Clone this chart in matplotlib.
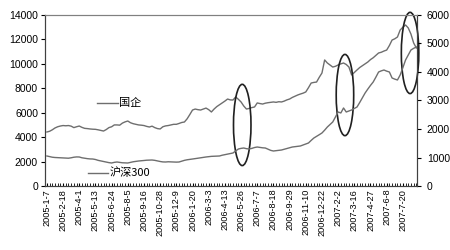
import matplotlib
matplotlib.use("Agg")
from matplotlib import pyplot as plt
from matplotlib.patches import Ellipse

plt.rcParams['font.family'] = ['Liberation Sans', 'Noto Sans CJK SC', 'DejaVu Sans']

# weekly closes, 2005-1-7 onwards
guoqi = [4420, 4480, 4600, 4750, 4850, 4910, 4950, 4930, 4950, 4900,
         4780, 4850, 4910, 4800, 4720, 4700, 4670, 4650, 4640, 4600,
         4550, 4500, 4620, 4780, 4850, 5000, 5000, 4980, 5150, 5250,
         5320, 5180, 5100, 5050, 5000, 4980, 4950, 4880, 4830, 4900,
         4780, 4700, 4670, 4850, 4920, 4950, 5000, 5050, 5050, 5120,
         5200, 5240, 5500, 5850, 6220, 6300, 6250, 6220, 6300, 6380,
         6250, 6060, 6300, 6500, 6650, 6800, 6950, 7120, 7050, 7040,
         7290, 7100, 6880, 6550, 6300, 6350, 6420, 6470, 6800, 6750,
         6710, 6780, 6820, 6850, 6880, 6850, 6900, 6880, 6950, 7050,
         7120, 7250, 7350, 7450, 7530, 7600, 7700, 8050, 8430, 8480,
         8510, 8900, 9250, 10320, 10070, 9900, 9740, 9800, 9910, 10000,
         10070, 9950, 9740, 9090, 9300, 9500, 9700, 9850, 10000, 10150,
         10350, 10500, 10700, 10890, 10950, 11050, 11130, 11500, 11950, 12050,
         12200, 12770, 13000, 13180, 12940, 12440, 11710, 11300]

hs300 = [1053, 1030, 1010, 1000, 995, 990, 985, 983, 975, 990,
         1010, 1020, 1018, 990, 975, 960, 950, 947, 930, 900,
         880, 860, 842, 820, 807, 830, 842, 830, 815, 810,
         807, 830, 850, 865, 877, 885, 895, 905, 910, 912,
         900, 880, 860, 845, 842, 850, 845, 840, 838, 842,
         870, 900, 920, 935, 947, 960, 975, 990, 1005, 1018,
         1030, 1040, 1045, 1050, 1053, 1080, 1100, 1120, 1140, 1158,
         1230, 1298, 1320, 1333, 1310, 1298, 1320, 1350, 1368, 1355,
         1340, 1333, 1290, 1250, 1228, 1240, 1250, 1263, 1290, 1320,
         1345, 1368, 1380, 1395, 1404, 1440, 1480, 1509, 1600, 1684,
         1740, 1800, 1860, 1960, 2070, 2160, 2246, 2420, 2597, 2562,
         2737, 2597, 2630, 2667, 2720, 2772, 2930, 3100, 3263, 3400,
         3530, 3649, 3820, 4000, 4040, 4070, 4030, 4000, 3790, 3750,
         3720, 3895, 4150, 4421, 4600, 4772, 4830, 4877]

tick_labels = ['2005-1-7', '2005-2-18', '2005-4-1', '2005-5-13', '2005-6-24',
               '2005-8-5', '2005-9-16', '2005-10-28', '2005-12-9', '2006-1-20',
               '2006-3-3', '2006-4-13', '2006-5-26', '2006-7-7', '2006-8-18',
               '2006-9-29', '2006-11-10', '2006-12-22', '2007-2-2', '2007-3-16',
               '2007-4-27', '2007-6-8', '2007-7-20']

x = list(range(len(guoqi)))
line_col = '#6e6e6e'

fig = plt.figure(figsize=(4.5, 2.5), dpi=100)
ax = fig.add_axes([0.1, 0.256, 0.827, 0.684])
ax2 = ax.twinx()

ax.plot(x, guoqi, color=line_col, lw=1.0)
ax2.plot(x, hs300, color=line_col, lw=1.0)

ax.set_xlim(-0.7, 137.3)
ax.set_ylim(0, 14000)
ax2.set_ylim(0, 6000)
ax.set_yticks(range(0, 14001, 2000))
ax2.set_yticks(range(0, 6001, 1000))

ax.set_xticks(x, minor=True)
ax.set_xticks(x[::6])
ax.set_xticklabels(tick_labels, rotation=90)
ax.tick_params(axis='x', which='both', direction='in', length=2, labelsize=6.6, pad=2)
ax.tick_params(axis='y', direction='out', length=3, labelsize=7.5, pad=2)
ax2.tick_params(axis='y', direction='out', length=3, labelsize=7.5, pad=4)

for a in (ax, ax2):
    a.spines['top'].set_color('#808080')
    a.spines['left'].set_color('#404040')
    a.spines['right'].set_color('#404040')
    a.spines['bottom'].set_color('#404040')
    for s in a.spines.values():
        s.set_linewidth(0.8)

# in-plot labels
ax.plot([0.14, 0.196], [0.485, 0.485], transform=ax.transAxes, color=line_col, lw=1.0)
ax.text(0.2, 0.485, '国企', transform=ax.transAxes, fontsize=8, va='center',
        family=['Noto Sans CJK SC', 'DejaVu Sans'])
ax.plot([0.116, 0.169], [0.076, 0.076], transform=ax.transAxes, color=line_col, lw=1.0)
ax.text(0.173, 0.076, '沪深300', transform=ax.transAxes, fontsize=8, va='center',
        family=['Noto Sans CJK SC', 'DejaVu Sans'])

for cx, cy in [(0.53, 0.357), (0.806, 0.532), (0.981, 0.778)]:
    ax2.add_patch(Ellipse((cx, cy), 0.047, 0.475, transform=ax2.transAxes,
                          fill=False, ec='#202020', lw=1.2, clip_on=False))

fig.savefig('out.png', dpi=100)
